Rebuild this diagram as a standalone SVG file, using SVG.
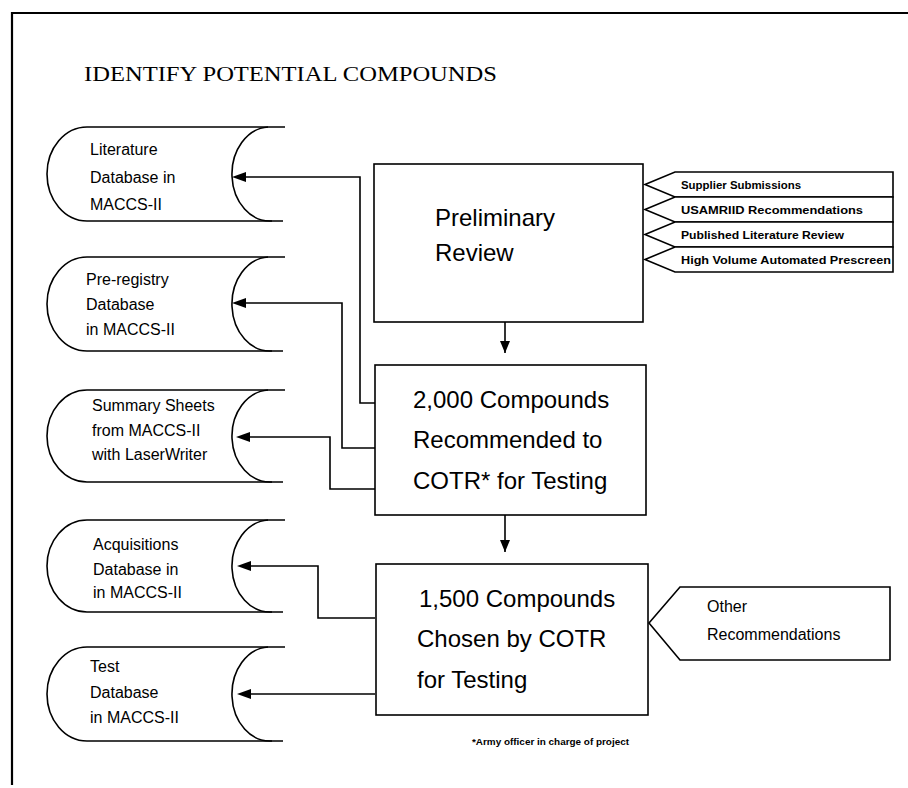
<svg xmlns="http://www.w3.org/2000/svg" width="908" height="788" viewBox="0 0 908 788">
<defs>
<marker id="ad" markerWidth="10" markerHeight="12" refX="5" refY="12" orient="0" markerUnits="userSpaceOnUse" viewBox="0 0 10 12">
<path d="M0,0 L10,0 L5,12 Z" fill="#000"/>
</marker>
<style>
.ln{fill:none;stroke:#000;stroke-width:1.6}
.bx{fill:#fff;stroke:#000;stroke-width:1.6}
.st{font-family:"Liberation Sans",Arial,sans-serif;font-size:16px;fill:#000}
.big{font-family:"Liberation Sans",Arial,sans-serif;font-size:24px;fill:#000}
.tag{font-family:"Liberation Sans",Arial,sans-serif;font-size:11.5px;font-weight:bold;fill:#000}
.ttl{font-family:"Liberation Serif","Times New Roman",serif;font-size:21px;fill:#000}
</style>
</defs>
<rect width="908" height="788" fill="#fff"/>
<g id="frame">
<path class="ln" d="M12,785 V13 H908" style="stroke-width:2.2"/>
</g>
<text class="ttl" x="84" y="81" textLength="413" lengthAdjust="spacingAndGlyphs">IDENTIFY POTENTIAL COMPOUNDS</text>

<g id="db-literature">
<path class="ln" d="M285,127 H87 A40,47 0 0 0 87,221 H283"/>
<path class="ln" d="M268,127 A38,47 0 0 0 272,221"/>
<text class="st" x="90" y="155">Literature</text>
<text class="st" x="90" y="183">Database in</text>
<text class="st" x="90" y="210">MACCS-II</text>
</g>
<g id="db-preregistry">
<path class="ln" d="M285,257 H87 A40,47 0 0 0 87,351 H283"/>
<path class="ln" d="M268,257 A38,47 0 0 0 272,351"/>
<text class="st" x="86" y="285">Pre-registry</text>
<text class="st" x="86" y="310">Database</text>
<text class="st" x="86" y="335">in MACCS-II</text>
</g>
<g id="db-summary">
<path class="ln" d="M285,390 H87 A40,46 0 0 0 87,482 H283"/>
<path class="ln" d="M268,390 A38,46 0 0 0 272,482"/>
<text class="st" x="92" y="411">Summary Sheets</text>
<text class="st" x="92" y="436">from MACCS-II</text>
<text class="st" x="92" y="460">with LaserWriter</text>
</g>
<g id="db-acquisitions">
<path class="ln" d="M285,520 H87 A40,46 0 0 0 87,612 H283"/>
<path class="ln" d="M268,520 A38,46 0 0 0 272,612"/>
<text class="st" x="93" y="550">Acquisitions</text>
<text class="st" x="93" y="575">Database in</text>
<text class="st" x="93" y="598">in MACCS-II</text>
</g>
<g id="db-test">
<path class="ln" d="M285,647 H87 A40,47 0 0 0 87,741 H283"/>
<path class="ln" d="M268,647 A38,47 0 0 0 272,741"/>
<text class="st" x="90" y="672">Test</text>
<text class="st" x="90" y="698">Database</text>
<text class="st" x="90" y="723">in MACCS-II</text>
</g>

<g id="preliminary-review">
<rect class="bx" x="374" y="164" width="269" height="158"/>
<text class="big" x="435" y="226">Preliminary</text>
<text class="big" x="435" y="261">Review</text>
</g>
<g id="compounds-2000">
<rect class="bx" x="375" y="365" width="271" height="150"/>
<text class="big" x="413" y="408">2,000 Compounds</text>
<text class="big" x="413" y="448">Recommended to</text>
<text class="big" x="413" y="489">COTR* for Testing</text>
</g>
<g id="compounds-1500">
<rect class="bx" x="376" y="564" width="272" height="151"/>
<text class="big" x="419" y="607">1,500 Compounds</text>
<text class="big" x="417" y="647">Chosen by COTR</text>
<text class="big" x="417" y="688">for Testing</text>
</g>

<g id="tag-supplier">
<path class="bx" d="M645,184.5 L675,172 H893 V197 H675 Z"/>
<text class="tag" x="681" y="189" textLength="120" lengthAdjust="spacingAndGlyphs">Supplier Submissions</text>
</g>
<g id="tag-usamriid">
<path class="bx" d="M645,209.5 L675,197 H893 V222 H675 Z"/>
<text class="tag" x="681" y="214" textLength="182" lengthAdjust="spacingAndGlyphs">USAMRIID Recommendations</text>
</g>
<g id="tag-published">
<path class="bx" d="M645,234.5 L675,222 H893 V247 H675 Z"/>
<text class="tag" x="681" y="239" textLength="163" lengthAdjust="spacingAndGlyphs">Published Literature Review</text>
</g>
<g id="tag-highvolume">
<path class="bx" d="M645,259.5 L675,247 H893 V272 H675 Z"/>
<text class="tag" x="681" y="264" textLength="210" lengthAdjust="spacingAndGlyphs">High Volume Automated Prescreen</text>
</g>

<g id="other-recommendations">
<path class="bx" d="M649,623 L680,587 H890 V660 H680 Z"/>
<text class="st" x="707" y="612">Other</text>
<text class="st" x="707" y="640">Recommendations</text>
</g>

<text class="tag" x="472" y="745" style="font-size:9.5px" textLength="157" lengthAdjust="spacingAndGlyphs">*Army officer in charge of project</text>

<g id="connectors">
<path class="ln" d="M505,322 V353" marker-end="url(#ad)"/>
<path class="ln" d="M505,515 V552" marker-end="url(#ad)"/>
<path class="ln" d="M375,403 H360 V177 H244"/>
<path class="ln" d="M375,448 H342 V303 H244"/>
<path class="ln" d="M375,489 H330 V437 H248"/>
<path class="ln" d="M375,618 H318 V566 H249"/>
<path class="ln" d="M375,694 H249"/>
<path d="M232,177 L246,172 L246,182 Z"/>
<path d="M232,303 L246,298 L246,308 Z"/>
<path d="M236,437 L250,432 L250,442 Z"/>
<path d="M237,566 L251,561 L251,571 Z"/>
<path d="M237,694 L251,689 L251,699 Z"/>
</g>
</svg>
